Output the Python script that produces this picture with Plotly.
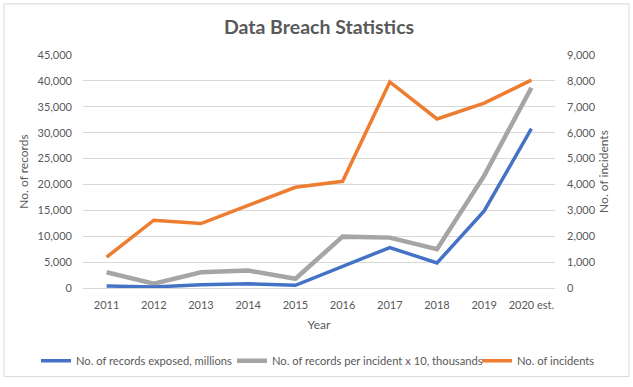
import plotly.graph_objects as go

years = ["2011", "2012", "2013", "2014", "2015", "2016", "2017", "2018", "2019", "2020 est."]
records_exposed = [400, 200, 630, 820, 510, 4200, 7820, 4830, 14890, 30780]
records_per_incident = [3050, 820, 3050, 3370, 1780, 9920, 9730, 7500, 21700, 38680]
incidents = [1190, 2620, 2490, 3190, 3890, 4120, 7960, 6530, 7140, 8030]

names = ["No. of records exposed, millions",
         "No. of records per incident x 10, thousands",
         "No. of incidents"]

FONT = "Lato"
TXT = "#595959"
GRID = "#d9d9d9"

L, R, T, B = 83, 555, 55, 292
W, H = R - L, B - T


def px_x(p):
    return (p - L) / W


def px_y(p):
    return (B - p) / H


fig = go.Figure()
fig.add_trace(go.Scatter(x=years, y=records_per_incident, name=names[1], mode="lines",
                         line=dict(color="#A5A5A5", width=4.5), legend="legend2"))
fig.add_trace(go.Scatter(x=years, y=records_exposed, name=names[0], mode="lines",
                         line=dict(color="#4472C4", width=3.5), legend="legend"))
fig.add_trace(go.Scatter(x=years, y=incidents, name=names[2], mode="lines", yaxis="y2",
                         line=dict(color="#ED7D31", width=3.5), legend="legend3"))

leg_common = dict(orientation="h", xanchor="left", yanchor="middle", y=px_y(366),
                  font=dict(size=11.2, color=TXT), bgcolor="rgba(0,0,0,0)")

fig.update_layout(
    width=633, height=387,
    margin=dict(l=L, r=633 - R, t=T, b=387 - B),
    paper_bgcolor="white", plot_bgcolor="white",
    font=dict(family=FONT, size=12, color=TXT),
    title=dict(text="<b>Data Breach Statistics</b>", x=0.5, xanchor="center",
               xref="paper", y=1 - 27 / 387, yanchor="middle",
               font=dict(size=19.5, color=TXT, family=FONT)),
    xaxis=dict(type="category", range=[-0.5, len(years) - 0.5], showgrid=False,
               showline=True, linecolor=GRID, linewidth=1, automargin=False,
               ticks="", ticklabelstandoff=7, tickfont=dict(size=11, color=TXT),
               title=dict(text="Year", font=dict(size=12, color=TXT), standoff=10)),
    yaxis=dict(range=[0, 45000], dtick=5000, tickformat=",", showgrid=True, gridcolor=GRID,
               gridwidth=1, zeroline=False, ticks="", ticklabelstandoff=10, automargin=False,
               tickfont=dict(size=11, color=TXT),
               title=dict(text="No. of records", font=dict(size=12, color=TXT), standoff=6)),
    yaxis2=dict(range=[0, 9000], dtick=1000, tickformat=",", overlaying="y", side="right",
                showgrid=False, zeroline=False, ticks="", ticklabelstandoff=11, automargin=False,
                tickfont=dict(size=11, color=TXT),
                title=dict(text="No. of incidents", font=dict(size=12, color=TXT), standoff=4)),
    legend=dict(x=px_x(36), **leg_common),
    legend2=dict(x=px_x(232), **leg_common),
    legend3=dict(x=px_x(477), **leg_common),
    showlegend=True,
)

fig.add_shape(type="rect", xref="paper", yref="paper",
              x0=px_x(4), x1=px_x(629), y0=px_y(382), y1=px_y(3),
              line=dict(color=GRID, width=1), fillcolor="rgba(0,0,0,0)", layer="below")

fig.write_html("out.html", config={"displayModeBar": False},
               post_script="document.body.style.margin='0';")
